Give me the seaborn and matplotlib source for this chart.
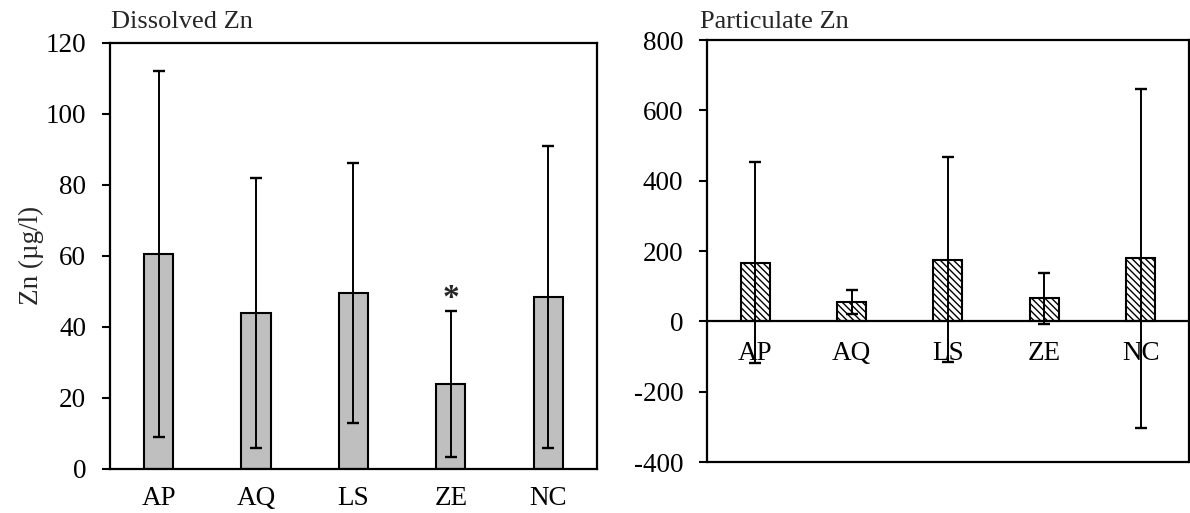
import matplotlib
matplotlib.use("Agg")
import matplotlib.pyplot as plt
import seaborn as sns
import numpy as np
import pandas as pd

categories = ["AP", "AQ", "LS", "ZE", "NC"]
dissolved_mean = [60.5, 44.0, 49.5, 24.0, 48.5]
dissolved_sd = [51.5, 38.0, 36.5, 20.5, 42.5]
particulate_mean = [167, 55, 175, 65, 180]
particulate_sd = [285, 35, 291, 72, 482]
left_ticks = [0, 20, 40, 60, 80, 100, 120]
right_ticks = [-400, -200, 0, 200, 400, 600, 800]

sns.set_style("white")
plt.rcParams["font.family"] = ["Liberation Serif", "DejaVu Serif"]
plt.rcParams["axes.unicode_minus"] = False
plt.rcParams["hatch.linewidth"] = 1.0
plt.rcParams["hatch.color"] = "black"

FS = 19.5
TFS = 19
fig = plt.figure(figsize=(11.9, 5.13), dpi=100)
ax1 = fig.add_axes([0.0924, 0.0858, 0.4092, 0.831])
ax2 = fig.add_axes([0.5941, 0.0994, 0.405, 0.8226])

df1 = pd.DataFrame({"cat": categories, "val": dissolved_mean})
df2 = pd.DataFrame({"cat": categories, "val": particulate_mean})

sns.barplot(data=df1, x="cat", y="val", ax=ax1, color="#BFBFBF", saturation=1,
            edgecolor="black", linewidth=1.5, width=0.3, errorbar=None)
ax1.errorbar(np.arange(len(categories)), dissolved_mean, yerr=dissolved_sd,
             fmt="none", ecolor="black", elinewidth=1.4, capsize=4.5, capthick=1.7, zorder=5)

sns.barplot(data=df2, x="cat", y="val", ax=ax2, color="white", saturation=1,
            edgecolor="black", linewidth=1.5, width=0.3, errorbar=None)
for p in ax2.patches:
    p.set_hatch("\\\\\\\\\\")
ax2.errorbar(np.arange(len(categories)), particulate_mean, yerr=particulate_sd,
             fmt="none", ecolor="black", elinewidth=1.4, capsize=4.5, capthick=1.7, zorder=5)

for ax in (ax1, ax2):
    for s in ax.spines.values():
        s.set_visible(True)
        s.set_color("black")
        s.set_linewidth(1.6)
    ax.set_xlabel("")
    ax.set_xlim(-0.5, len(categories) - 0.5)
    ax.tick_params(axis="y", direction="out", length=6, width=1.5, pad=11,
                   labelsize=FS, left=True, colors="black")
    ax.tick_params(axis="x", length=0, labelsize=FS, colors="black")

ax1.set_ylim(0, 120)
ax1.set_yticks(left_ticks)
ax1.tick_params(axis="x", pad=12)
ax1.set_ylabel("Zn (µg/l)", fontsize=FS, labelpad=1)
ax1.text(0.003, 1.034, "Dissolved Zn", transform=ax1.transAxes, fontsize=TFS,
         ha="left", va="baseline")
ax1.text(3, 48, "*", ha="center", va="center", fontsize=24, fontweight="bold")

ax2.set_ylim(-400, 800)
ax2.set_yticks(right_ticks)
ax2.set_ylabel("")
ax2.spines["bottom"].set_position(("data", 0))
ax2.tick_params(axis="x", pad=14)
ax2.plot([0, 1], [0, 0], transform=ax2.transAxes, color="black", lw=1.6, clip_on=False)
ax2.text(-0.0145, 1.028, "Particulate Zn", transform=ax2.transAxes, fontsize=TFS,
         ha="left", va="baseline")

fig.savefig("out.png", dpi=100)
